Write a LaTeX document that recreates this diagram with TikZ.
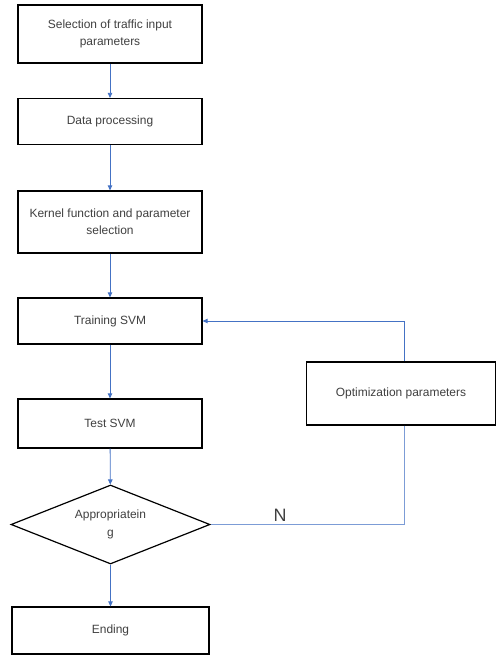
\documentclass[tikz,border=0pt]{standalone}
\usepackage{fontspec}
\setmainfont{Liberation Sans}
\usetikzlibrary{shapes.geometric,arrows.meta}
\definecolor{linkblue}{HTML}{4472C4}
\definecolor{txtgray}{HTML}{404040}
\tikzset{
  procbox/.style={draw=black, line width=1.2bp, fill=white, minimum width=184bp, inner sep=2bp,
    align=center, text=txtgray, font=\fontsize{12}{17.5}\selectfont},
  decbox/.style={diamond, draw=black, line width=1.2bp, minimum width=199bp, minimum height=79bp,
    inner sep=0pt, aspect=2.5, align=center, text=txtgray, font=\fontsize{12}{18}\selectfont},
  link/.style={draw=linkblue, line width=0.8bp, -{Triangle[length=5bp,width=4.5bp]}},
  plainlink/.style={draw=linkblue!70, line width=0.8bp}
}
\begin{document}
\begin{tikzpicture}[x=1bp,y=-1bp]
\useasboundingbox (0,0) rectangle (496,656);
\node[procbox, minimum height=58bp] (sel) at (110,34) {Selection of traffic input\\parameters};
\node[procbox, minimum height=46bp] (dat) at (110,121.5) {Data processing};
\node[procbox, minimum height=62bp] (ker) at (110,222) {Kernel function and parameter\\selection};
\node[procbox, minimum height=46bp] (tra) at (110,321) {Training SVM};
\node[procbox, minimum height=49bp] (tes) at (110,423.5) {Test SVM};
\node[decbox] (app) at (110.5,524.5) {Appropriatein\\g};
\node[procbox, minimum width=197bp, minimum height=47bp] (end) at (110.5,630.5) {Ending};
\node[procbox, minimum width=189bp, minimum height=63bp] (opt) at (401,393.5) {Optimization parameters};
\coordinate (optTop) at ([xshift=3bp]opt.north);
\coordinate (optBot) at ([xshift=3bp]opt.south);
\draw[link] (sel) -- (dat);
\draw[link] (dat) -- (ker);
\draw[link] (ker) -- (tra);
\draw[link] (tra) -- (tes);
\draw[link] (tes) -- (app);
\draw[link] (app) -- (end);
\draw[link] (optTop) |- (tra.east);
\draw[plainlink] (optBot) |- (app.east);
\node[text=txtgray, font=\fontsize{18}{18}\selectfont, inner sep=0pt] (nlab) at (280,515) {N};
\end{tikzpicture}
\end{document}
